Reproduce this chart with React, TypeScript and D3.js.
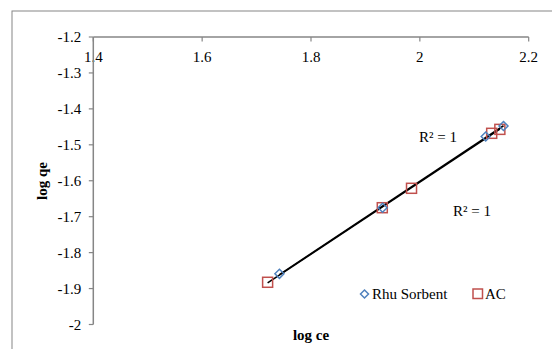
import React from "react";
import * as d3 from "d3";

const rhuX = [1.742, 1.9315, 2.121, 2.1537];
const rhuY = [-1.859, -1.675, -1.477, -1.4476];
const acX = [1.7203, 1.931, 1.9847, 2.132, 2.147];
const acY = [-1.8825, -1.675, -1.621, -1.468, -1.457];
const xTicks = [1.4, 1.6, 1.8, 2, 2.2];
const yTicks = [-1.2, -1.3, -1.4, -1.5, -1.6, -1.7, -1.8, -1.9, -2];
const seriesNames = ["Rhu Sorbent", "AC"];
const r2Labels = ["R² = 1", "R² = 1"];

const BLUE = "#4F81BD";
const RED = "#C0504D";
const AXIS = "#868686";
const FONT = "'Liberation Serif', 'Times New Roman', serif";

function fit(xs: number[], ys: number[]) {
  const mx = d3.mean(xs)!;
  const my = d3.mean(ys)!;
  let num = 0, den = 0;
  xs.forEach((x, i) => { num += (x - mx) * (ys[i] - my); den += (x - mx) ** 2; });
  const b = num / den;
  const a = my - b * mx;
  return { a, b, x0: d3.min(xs)!, x1: d3.max(xs)! };
}

export default function App() {
  const W = 552, H = 349;
  const x = d3.scaleLinear().domain([1.4, 2.2]).range([93.3, 528.7]);
  const y = d3.scaleLinear().domain([-1.2, -2]).range([37, 324.5]);
  const fits = [fit(rhuX, rhuY), fit(acX, acY)];
  const fmt = (v: number) => (Math.round(v * 10) / 10).toString();
  const diamond = (cx: number, cy: number, r: number) =>
    `M${cx},${cy - r}L${cx + r},${cy}L${cx},${cy + r}L${cx - r},${cy}Z`;

  return (
    <svg width={W} height={H} style={{ position: "absolute", left: 0, top: 0 }} fontFamily={FONT}>
      <rect x={0} y={0} width={W} height={H} fill="#fff" />
      <rect x={12} y={11} width={W + 10} height={H + 10} fill="none" stroke={AXIS} strokeWidth={1} />
      {/* x axis at top */}
      <line x1={x(1.4)} x2={x(2.2)} y1={y(-1.2)} y2={y(-1.2)} stroke={AXIS} strokeWidth={1.5} />
      {xTicks.map((t) => (
        <g key={"xt" + t}>
          <line x1={x(t)} x2={x(t)} y1={y(-1.2)} y2={y(-1.2) + 4.5} stroke={AXIS} strokeWidth={1.2} />
          <text x={x(t)} y={y(-1.2) + 25} fontSize={15} textAnchor="middle" fill="#000">{fmt(t)}</text>
        </g>
      ))}
      {/* y axis */}
      <line x1={x(1.4)} x2={x(1.4)} y1={y(-1.2)} y2={y(-2)} stroke={AXIS} strokeWidth={1.5} />
      {yTicks.map((t) => (
        <g key={"yt" + t}>
          <line x1={x(1.4) - 4.5} x2={x(1.4)} y1={y(t)} y2={y(t)} stroke={AXIS} strokeWidth={1.2} />
          <text x={x(1.4) - 12} y={y(t) + 5} fontSize={15} textAnchor="end" fill="#000">{fmt(t)}</text>
        </g>
      ))}
      {/* trend lines */}
      {fits.map((f, i) => (
        <line key={"f" + i} x1={x(f.x0)} y1={y(f.a + f.b * f.x0)} x2={x(f.x1)} y2={y(f.a + f.b * f.x1)}
          stroke="#000" strokeWidth={1.6} />
      ))}
      {/* AC squares */}
      {acX.map((v, i) => (
        <rect key={"ac" + i} x={x(v) - 5} y={y(acY[i]) - 5} width={10} height={10} fill="none" stroke={RED} strokeWidth={1.5} />
      ))}
      {/* Rhu diamonds */}
      {rhuX.map((v, i) => (
        <path key={"rh" + i} d={diamond(x(v), y(rhuY[i]), 4.5)} fill="none" stroke={BLUE} strokeWidth={1.5} />
      ))}
      {/* R2 labels */}
      <text x={419} y={142} fontSize={15} fill="#000">{r2Labels[0]}</text>
      <text x={453} y={216} fontSize={15} fill="#000">{r2Labels[1]}</text>
      {/* legend */}
      <path d={diamond(364.5, 294, 4)} fill="none" stroke={BLUE} strokeWidth={1.5} />
      <text x={372} y={299} fontSize={15} fill="#000">{seriesNames[0]}</text>
      <rect x={473} y={289} width={9.5} height={9.5} fill="none" stroke={RED} strokeWidth={1.5} />
      <text x={485} y={299} fontSize={15} fill="#000">{seriesNames[1]}</text>
      {/* axis titles */}
      <text x={311} y={340} fontSize={15} fontWeight="bold" textAnchor="middle" fill="#000">log ce</text>
      <text transform={`translate(46.5,181) rotate(-90)`} fontSize={15} fontWeight="bold" textAnchor="middle" fill="#000">log qe</text>
    </svg>
  );
}
